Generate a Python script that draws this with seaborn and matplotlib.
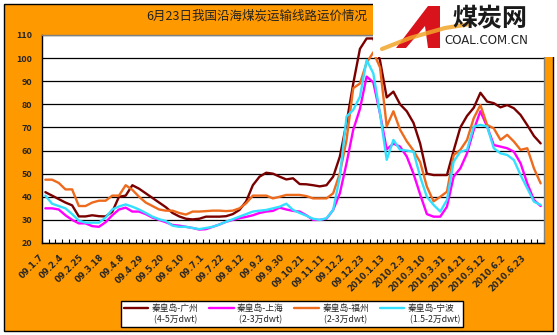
import numpy as np
import pandas as pd
import matplotlib
matplotlib.use("Agg")
import matplotlib.pyplot as plt
import matplotlib.transforms as mtransforms
from matplotlib.patches import Rectangle, Polygon
from matplotlib.lines import Line2D
from matplotlib.legend_handler import HandlerLine2D
import seaborn as sns

# Weekly freight rates (元/吨), 75 weekly observations
guangzhou = [42, 40.5, 39, 37.5, 36.3, 31.5, 31.5, 32, 31.6, 31.5,
             33.5, 40, 40.5, 45, 43.5, 41.5, 39.5, 37.5, 35.5, 33,
             31.5, 30.5, 30.2, 30.5, 31.4, 31.4, 31.4, 31.6, 32.5, 34.3,
             38, 45, 48.7, 50.4, 50, 48.7, 47.5, 48, 45.5, 45.4,
             45, 44.5, 45, 48.7, 57.4, 72, 89, 104, 108.5, 108.5,
             99, 83, 85.5, 80, 77, 72, 63, 50, 49.4, 49.4,
             49.4, 60, 70, 75, 78.5, 85, 81.2, 80.5, 78.7, 79.7,
             78.3, 75.4, 71, 66.3, 63.1]
shanghai = [35, 35, 34.5, 32, 30, 28.5, 28.5, 27.3, 27, 29,
            32, 34.5, 35.3, 33.6, 33.6, 32.5, 31, 30, 29, 27.8,
            27.5, 27, 26.5, 25.8, 26, 27, 28, 29.2, 30, 30.7,
            31.3, 32, 33, 33.6, 33.9, 35.3, 34.5, 33.9, 33.6, 32,
            30, 30, 30.5, 34.3, 41.5, 54.5, 69, 78, 92, 89.5,
            76, 60.5, 63, 61.7, 57.4, 50, 41, 32.5, 31.4, 31.4,
            35.7, 48.7, 52.3, 58.8, 68.9, 77, 70.4, 62.4, 61.7, 61,
            59.5, 54.5, 45.8, 38.6, 36]
fuzhou = [47.4, 47.4, 46, 43.2, 43.2, 36, 36, 37.5, 38.3, 38.3,
          40.5, 40.5, 45, 43, 40, 37.5, 36, 34.5, 34, 34,
          33, 32.3, 33.6, 33.6, 33.8, 34, 34, 33.8, 34, 35,
          37.2, 40.5, 40.5, 40.5, 39.3, 40, 40.8, 40.8, 40.8, 40.3,
          39.3, 39.3, 39.3, 41.5, 50.2, 64.6, 87, 89, 98, 102.5,
          96, 70.5, 77, 69, 64, 60, 55, 44.4, 38, 40,
          42.2, 58, 60.3, 64.6, 74, 79.7, 71.1, 69.6, 64.6, 66.8,
          63.9, 60.3, 61, 52.3, 45.8]
ningbo = [40.5, 37, 36, 35, 32.5, 29.7, 28.8, 28.8, 28.8, 31,
          34.5, 35.8, 36.7, 35.7, 34.5, 33, 31.4, 30.3, 29.5, 27.5,
          27, 27, 26.5, 26, 26.5, 27, 28, 29.2, 30.3, 31.4,
          32.5, 33.6, 34, 34.3, 35, 35.7, 37, 34.3, 33, 31.8,
          30.5, 30, 30.7, 34.3, 48.7, 74.7, 77.6, 83.3, 99.2, 93.4,
          76, 56, 64.6, 60.3, 60, 59.5, 48.7, 40, 36.5, 33.6,
          38.6, 55.2, 59.5, 60.3, 70.4, 71.1, 70.4, 61, 58.8, 58.1,
          55.9, 49.4, 43.7, 37.9, 36.5]

tick_labels = ["09.1.7", "09.2.4", "09.2.25", "09.3.18", "09.4.8", "09.4.29",
               "09.5.20", "09.6.10", "09.7.1", "09.7.22", "09.8.12", "09.9.2",
               "09.9.30", "09.10.21", "09.11.11", "09.12.2", "09.12.23",
               "2010.1.13", "2010.2.3", "2010.3.10", "2010.3.31", "2010.4.21",
               "2010.5.12", "2010.6.2", "2010.6.23"]

routes = ["秦皇岛-广州", "秦皇岛-上海", "秦皇岛-福州", "秦皇岛-宁波"]
tonnage = ["(4-5万dwt)", "(2-3万dwt)", "(2-3万dwt)", "(1.5-2万dwt)"]
colors = ["#7a0000", "#ff00ff", "#ee6a1c", "#33e0ff"]

series = [guangzhou, shanghai, fuzhou, ningbo]
n = len(guangzhou)
df = pd.concat([pd.DataFrame({"week": np.arange(n), "rate": vals, "route": r})
                for r, vals in zip(routes, series)], ignore_index=True)

sns.set_style("white")
plt.rcParams["font.family"] = ["Noto Sans CJK SC", "DejaVu Sans"]

W, H = 557, 335
fig = plt.figure(figsize=(W / 100, H / 100), dpi=100)
fig.patch.set_facecolor("white")

# orange chart background with a thin black frame
fig.add_artist(Rectangle((4 / W, 1 - 331 / H), 549 / W, 327 / H,
                         transform=fig.transFigure, facecolor="#ff9900",
                         edgecolor="black", linewidth=1.0, zorder=0))

ax = fig.add_axes([42 / W, 1 - 243 / H, 502 / W, 208 / H])
ax.set_facecolor("white")

sns.lineplot(data=df, x="week", y="rate", hue="route", hue_order=routes,
             palette=dict(zip(routes, colors)), linewidth=1.7, sort=False,
             legend=False, ax=ax, zorder=3)

ax.set_xlim(-0.5, n - 0.5)
ax.set_ylim(20, 110)
ax.set_yticks(np.arange(20, 111, 10))
ax.yaxis.grid(True, color="black", linewidth=0.9)
ax.set_axisbelow(True)
ax.set_xlabel("")
ax.set_ylabel("")
ax.tick_params(axis="y", length=0, pad=7, labelsize=6.5)
for lab in ax.get_yticklabels():
    lab.set_fontweight("bold")

# category tick marks pointing into the plot
ax.set_xticks([])
ax.set_xticks(np.arange(-0.5, n, 1), minor=True)
ax.tick_params(axis="x", which="minor", direction="in", length=3,
               width=0.8, color="black", bottom=True)

for side in ("left", "bottom"):
    ax.spines[side].set_color("black")
    ax.spines[side].set_linewidth(1.0)
for side in ("top", "right"):
    ax.spines[side].set_color("#808080")
    ax.spines[side].set_linewidth(1.0)

# rotated date labels, every third week
off = mtransforms.offset_copy(ax.get_xaxis_transform(), fig=fig, x=-6, y=-10, units="dots")
for k, lab in enumerate(tick_labels):
    ax.text(3 * k, 0, lab, transform=off, rotation=45, ha="right", va="top",
            rotation_mode="anchor", fontsize=6.1, fontweight="bold",
            family=["DejaVu Sans"])

# title bar text
fig.text(257 / W, 1 - 16 / H, "6月23日我国沿海煤炭运输线路运价情况",
         ha="center", va="center", fontsize=9, color="#222222")


class TopAlignedLine(HandlerLine2D):
    """Legend line sample placed level with the first text line."""
    def create_artists(self, legend, orig_handle, xdescent, ydescent,
                       width, height, fontsize, trans):
        arts = super().create_artists(legend, orig_handle, xdescent, ydescent,
                                      width, height, fontsize, trans)
        for a in arts:
            a.set_ydata(np.asarray(a.get_ydata()) + fontsize * 0.75)
        return arts


handles = [Line2D([], [], color=c, linewidth=1.7) for c in colors]
labels = [f"{r}\n {t}" for r, t in zip(routes, tonnage)]
leg = fig.legend(handles, labels, ncol=4, loc="center",
                 bbox_to_anchor=(292 / W, 1 - 314 / H), fontsize=6.3,
                 frameon=True, fancybox=False, edgecolor="black",
                 handlelength=2.8, handletextpad=0.4, columnspacing=1.2,
                 borderpad=0.35, labelspacing=0.2,
                 handler_map={Line2D: TopAlignedLine()})
leg.get_frame().set_linewidth(1.0)
leg.get_frame().set_facecolor("white")
leg.get_frame().set_alpha(1)

# site logo block in the top-right corner
fig.add_artist(Rectangle((373 / W, 1 - 57 / H), (W - 373) / W, 57 / H,
                         transform=fig.transFigure, facecolor="white",
                         edgecolor="none", zorder=10))
px = lambda x, y: (x / W, 1 - y / H)
fig.add_artist(Polygon([px(440, 6), px(428, 6), px(396, 48), px(406, 48),
                        px(425, 26), px(428, 48), px(440, 48)],
                       closed=True, transform=fig.transFigure,
                       facecolor="#d8131b", edgecolor="none", zorder=11))
fig.add_artist(Line2D([382 / W, 410 / W, 445 / W, 470 / W],
                      [1 - 49 / H, 1 - 38 / H, 1 - 28 / H, 1 - 24 / H],
                      transform=fig.transFigure, color="#f2a52a",
                      linewidth=3, alpha=0.85, zorder=12))
fig.text(490 / W, 1 - 19 / H, "煤炭网", ha="center", va="center",
         fontsize=18, fontweight="bold", color="#1a1a1a", zorder=13)
fig.text(486 / W, 1 - 41 / H, "COAL.COM.CN", ha="center", va="center",
         fontsize=8.5, color="#222222", zorder=13, family=["DejaVu Sans"])

fig.savefig("out.png", dpi=100)
